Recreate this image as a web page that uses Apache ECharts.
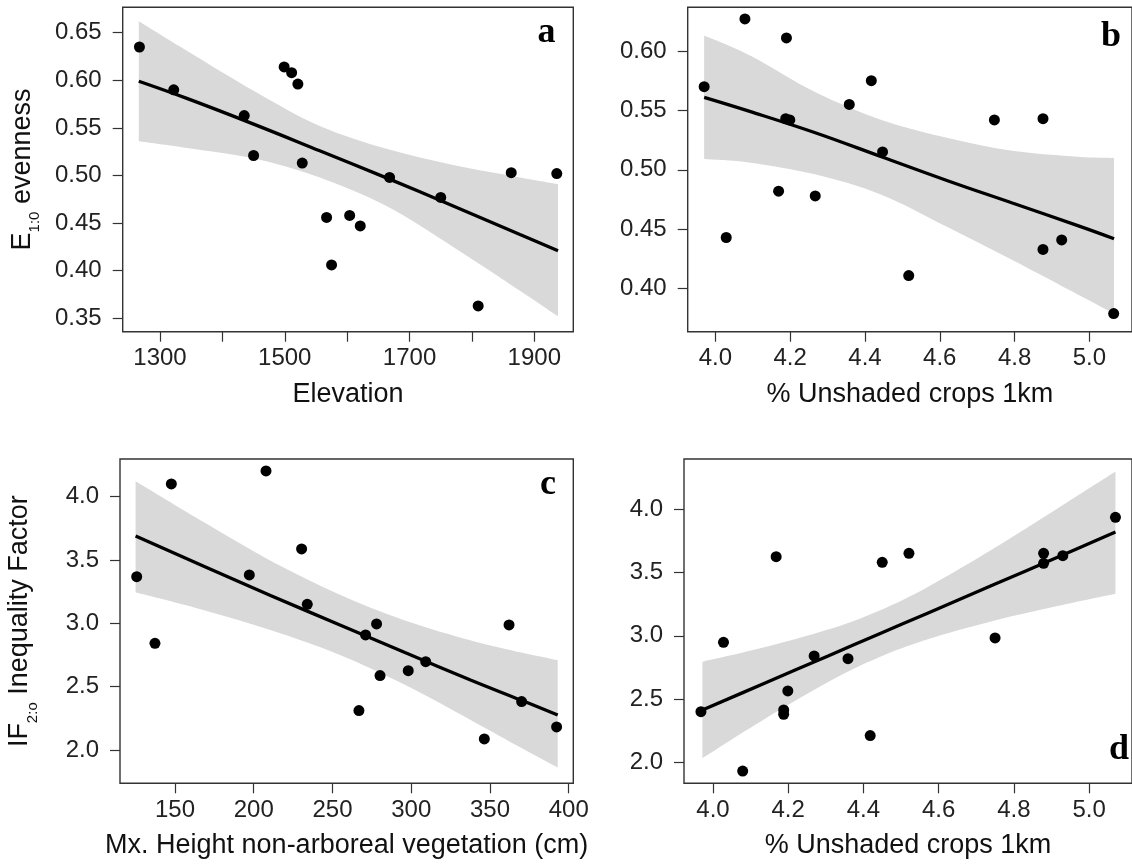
<!DOCTYPE html>
<html>
<head>
<meta charset="utf-8">
<title>Evenness and inequality panels</title>
<script src="https://cdn.jsdelivr.net/npm/echarts@6/dist/echarts.min.js"></script>
<style>
  html, body { margin: 0; padding: 0; background: #fff; }
  #chart { width: 1132px; height: 868px; }
</style>
</head>
<body>
<div id="chart"></div>
<script>
// panel a: evenness vs elevation
const elevation = [1267, 1322, 1435, 1450, 1499, 1511, 1521, 1528, 1567, 1575, 1604, 1621, 1668, 1750, 1810, 1863, 1936];
const evennessA = [0.635, 0.590, 0.563, 0.521, 0.614, 0.608, 0.596, 0.513, 0.456, 0.406, 0.458, 0.447, 0.498, 0.477, 0.363, 0.503, 0.502];
const fitXA = [1266, 1343, 1450, 1556, 1663, 1770, 1877, 1938];
const fitA  = [0.599, 0.581, 0.554, 0.526, 0.4975, 0.468, 0.438, 0.421];
const loA   = [0.536, 0.529, 0.518, 0.498, 0.468, 0.425, 0.379, 0.352];
const hiA   = [0.662, 0.631, 0.589, 0.552, 0.528, 0.511, 0.498, 0.491];

// panel b: evenness vs % unshaded crops
const unshadedB = [3.970, 4.029, 4.079, 4.169, 4.190, 4.188, 4.199, 4.267, 4.358, 4.417, 4.447, 4.517, 4.746, 4.876, 4.876, 4.926, 5.065];
const evennessB = [0.570, 0.443, 0.627, 0.482, 0.611, 0.543, 0.542, 0.478, 0.555, 0.575, 0.515, 0.411, 0.542, 0.543, 0.433, 0.441, 0.379];
const fitXB = [3.970, 4.094, 4.269, 4.444, 4.619, 4.794, 4.969, 5.066];
const fitB  = [0.561, 0.549, 0.531, 0.511, 0.491, 0.472, 0.453, 0.442];
const loB   = [0.509, 0.506, 0.496, 0.479, 0.452, 0.424, 0.395, 0.379];
const hiB   = [0.613, 0.596, 0.565, 0.542, 0.527, 0.516, 0.511, 0.510];

// panel c: inequality factor vs max height of non-arboreal vegetation
const heightC = [125.7, 137.3, 147.7, 197.2, 207.8, 230.4, 234.0, 266.8, 271.0, 278.0, 280.2, 298.1, 309.2, 346.4, 362.1, 370.1, 392.3];
const ifC     = [3.368, 2.842, 4.100, 3.382, 4.203, 3.587, 3.150, 2.311, 2.908, 2.995, 2.587, 2.626, 2.697, 2.087, 2.987, 2.382, 2.182];
const fitXC = [125, 169, 211, 254, 296, 338, 370, 393];
const fitC  = [3.689, 3.447, 3.218, 2.991, 2.769, 2.551, 2.392, 2.276];
const loC   = [3.245, 3.102, 2.945, 2.754, 2.514, 2.235, 2.015, 1.861];
const hiC   = [4.121, 3.793, 3.492, 3.230, 3.023, 2.865, 2.769, 2.708];

// panel d: inequality factor vs % unshaded crops
const unshadedD = [3.968, 4.028, 4.079, 4.168, 4.188, 4.188, 4.199, 4.269, 4.359, 4.418, 4.450, 4.521, 4.750, 4.879, 4.879, 4.930, 5.070];
const ifD       = [2.400, 2.949, 1.931, 3.626, 2.414, 2.380, 2.564, 2.841, 2.819, 2.211, 3.581, 3.652, 2.983, 3.652, 3.573, 3.634, 3.937];
const fitXD = [3.972, 4.131, 4.306, 4.440, 4.569, 4.744, 4.919, 5.070];
const fitD  = [2.414, 2.617, 2.841, 3.013, 3.177, 3.401, 3.625, 3.820];
const loD   = [2.032, 2.330, 2.634, 2.828, 2.971, 3.117, 3.237, 3.332];
const hiD   = [2.795, 2.905, 3.049, 3.197, 3.383, 3.686, 4.013, 4.299];

// ticks
const ticksAx = [1300, 1400, 1500, 1600, 1700, 1800, 1900];
const labelsAx = [1300, 1500, 1700, 1900];
const ticksAy = [0.35, 0.40, 0.45, 0.50, 0.55, 0.60, 0.65];
const ticksCropX = [4.0, 4.2, 4.4, 4.6, 4.8, 5.0];
const ticksBy = [0.40, 0.45, 0.50, 0.55, 0.60];
const ticksCx = [150, 200, 250, 300, 350, 400];
const ticksIFy = [2.0, 2.5, 3.0, 3.5, 4.0];

const FONT = 'Liberation Sans';
const INK = '#222';
const BAND = '#d9d9d9';

const chart = echarts.init(document.getElementById('chart'));

function xAxis(grid, min, max, ticks, labels, digits, name) {
  return {
    type: 'value', gridIndex: grid, min: min, max: max, name: name,
    nameLocation: 'middle', nameGap: 49,
    nameTextStyle: { fontFamily: FONT, fontSize: 27, color: '#111' },
    axisLine: { show: false },
    splitLine: { show: false },
    axisTick: { show: true, inside: false, length: 10, customValues: ticks, lineStyle: { color: '#333', width: 1.2 } },
    axisLabel: { customValues: labels, margin: 15, fontFamily: FONT, fontSize: 24, color: INK,
      formatter: v => v.toFixed(digits) }
  };
}

function yAxis(grid, min, max, ticks, digits, name) {
  return {
    type: 'value', gridIndex: grid, min: min, max: max, name: name || '',
    nameLocation: 'middle', nameGap: 80,
    nameTextStyle: {
      fontFamily: FONT, color: '#111',
      rich: {
        m: { fontFamily: FONT, fontSize: 27, color: '#111', verticalAlign: 'top' },
        s: { fontFamily: FONT, fontSize: 15, color: '#111', verticalAlign: 'bottom', lineHeight: 34 }
      }
    },
    axisLine: { show: false },
    splitLine: { show: false },
    axisTick: { show: true, inside: false, length: 10, customValues: ticks, lineStyle: { color: '#333', width: 1.2 } },
    axisLabel: { customValues: ticks, margin: 21, fontFamily: FONT, fontSize: 24, color: INK,
      formatter: v => v.toFixed(digits) }
  };
}

// smooth curve through pixel points (Catmull-Rom as cubic bezier)
function curve(pts, move) {
  let d = move ? 'M' + pts[0][0] + ' ' + pts[0][1] : '';
  for (let i = 0; i < pts.length - 1; i++) {
    const p0 = pts[i - 1] || pts[i], p1 = pts[i], p2 = pts[i + 1], p3 = pts[i + 2] || pts[i + 1];
    const c1 = [p1[0] + (p2[0] - p0[0]) / 6, p1[1] + (p2[1] - p0[1]) / 6];
    const c2 = [p2[0] - (p3[0] - p1[0]) / 6, p2[1] - (p3[1] - p1[1]) / 6];
    d += ' C' + c1[0] + ' ' + c1[1] + ' ' + c2[0] + ' ' + c2[1] + ' ' + p2[0] + ' ' + p2[1];
  }
  return d;
}

function panelSeries(idx, xs, ys, fx, fit, lo, hi) {
  const pair = (a, b) => a.map((v, i) => [v, b[i]]);
  return [
    { type: 'custom', xAxisIndex: idx, yAxisIndex: idx, z: 1, silent: true,
      data: fx.map((v, i) => [v, lo[i], hi[i]]),
      encode: { x: 0, y: [1, 2] },
      renderItem: (params, api) => {
        if (params.dataIndex !== 0) return;
        const up = fx.map((v, i) => api.coord([v, hi[i]]));
        const dn = fx.map((v, i) => api.coord([v, lo[i]])).reverse();
        const d = curve(up, true) + ' L' + dn[0][0] + ' ' + dn[0][1] + curve(dn, false) + ' Z';
        return { type: 'path', shape: { pathData: d }, style: { fill: BAND } };
      } },
    { type: 'line', xAxisIndex: idx, yAxisIndex: idx, data: pair(fx, fit),
      symbol: 'none', smooth: 0.4, z: 3, lineStyle: { color: '#000', width: 3.3 } },
    { type: 'scatter', xAxisIndex: idx, yAxisIndex: idx, data: pair(xs, ys),
      symbol: 'circle', symbolSize: 11, z: 4, itemStyle: { color: '#000', opacity: 1 } }
  ];
}

const gridBox = { show: true, borderColor: '#333', borderWidth: 1.4, backgroundColor: 'transparent' };

function letter(t, x, y) {
  return { type: 'text', x: x, y: y, z: 10,
    style: { text: t, font: 'bold 36px "Liberation Serif"', fill: '#000', align: 'center', verticalAlign: 'bottom' } };
}

chart.setOption({
  animation: false,
  backgroundColor: '#fff',
  grid: [
    Object.assign({ left: 122.7, top: 7.3, width: 450.6, height: 324.4 }, gridBox),
    Object.assign({ left: 687.7, top: 7.3, width: 452.8, height: 324.4 }, gridBox),
    Object.assign({ left: 120, top: 459, width: 453.3, height: 324.3 }, gridBox),
    Object.assign({ left: 684, top: 459, width: 453.7, height: 324.3 }, gridBox)
  ],
  xAxis: [
    xAxis(0, 1240.2, 1962.5, ticksAx, labelsAx, 0, 'Elevation'),
    xAxis(1, 3.926, 5.114, ticksCropX, ticksCropX, 1, '% Unshaded crops 1km'),
    xAxis(2, 115.1, 402.9, ticksCx, ticksCx, 0, 'Mx. Height non-arboreal vegetation (cm)'),
    xAxis(3, 3.923, 5.114, ticksCropX, ticksCropX, 1, '% Unshaded crops 1km')
  ],
  yAxis: [
    yAxis(0, 0.3359, 0.6767, ticksAy, 2, '{m|E}{s|1:0}{m| evenness}'),
    yAxis(1, 0.3637, 0.6368, ticksBy, 2),
    yAxis(2, 1.737, 4.297, ticksIFy, 1, '{m|IF}{s|2:o}{m| Inequality Factor}'),
    yAxis(3, 1.834, 4.398, ticksIFy, 1)
  ],
  series: [].concat(
    panelSeries(0, elevation, evennessA, fitXA, fitA, loA, hiA),
    panelSeries(1, unshadedB, evennessB, fitXB, fitB, loB, hiB),
    panelSeries(2, heightC, ifC, fitXC, fitC, loC, hiC),
    panelSeries(3, unshadedD, ifD, fitXD, fitD, loD, hiD)
  ),
  graphic: [
    letter('a', 546.5, 51),
    letter('b', 1111, 55),
    letter('c', 548, 503),
    letter('d', 1119, 768)
  ]
});
</script>
</body>
</html>
